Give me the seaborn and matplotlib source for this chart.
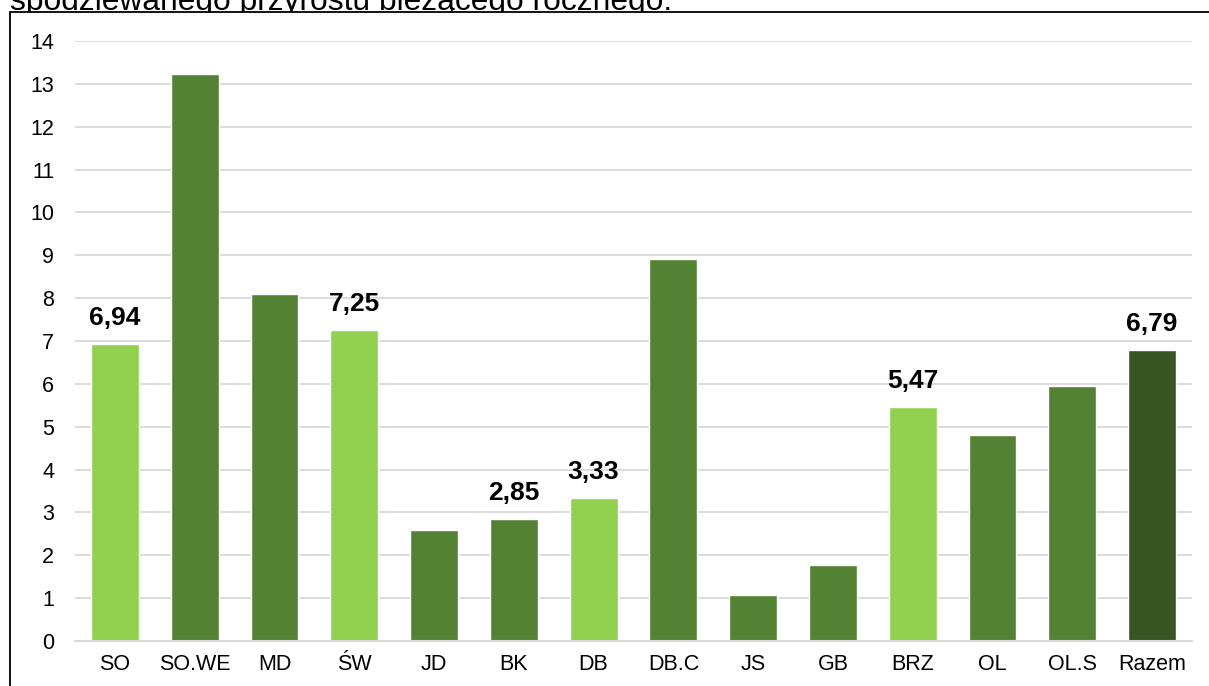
import matplotlib
matplotlib.use("Agg")
import matplotlib.pyplot as plt
from matplotlib.patches import Rectangle
import seaborn as sns
import pandas as pd

categories = ["SO", "SO.WE", "MD", "ŚW", "JD", "BK", "DB", "DB.C", "JS", "GB", "BRZ", "OL", "OL.S", "Razem"]
values = [6.94, 13.23, 8.10, 7.25, 2.60, 2.85, 3.33, 8.91, 1.08, 1.78, 5.47, 4.81, 5.95, 6.79]
groups = ["light", "mid", "mid", "light", "mid", "mid", "light", "mid", "mid", "mid", "light", "mid", "mid", "dark"]
labelled = ["SO", "ŚW", "BK", "DB", "BRZ", "Razem"]
title_text = "spodziewanego przyrostu bieżącego rocznego."

palette = {"light": "#92D050", "mid": "#548235", "dark": "#375623"}

df = pd.DataFrame({"cat": categories, "val": values, "grp": groups})

sns.set_theme(style="white")
plt.rcParams["font.family"] = ["Liberation Sans", "DejaVu Sans"]

W, H = 1209, 686
fig = plt.figure(figsize=(W / 100, H / 100), dpi=100)
ax = fig.add_axes([75 / W, 1 - 641 / H, (1192 - 75) / W, 600 / H])
ax.set_zorder(5)

sns.barplot(data=df, x="cat", y="val", hue="grp", palette=palette, dodge=False,
            width=0.6, legend=False, ax=ax, order=categories, saturation=1)

ax.set_ylim(0, 14)
ax.set_xlim(-0.5, len(categories) - 0.5)
ax.set_yticks(range(0, 15))
ax.yaxis.grid(True, color="#D9D9D9", lw=1.3)
ax.set_axisbelow(True)
for s in ["top", "right", "left"]:
    ax.spines[s].set_visible(False)
ax.spines["bottom"].set_color("#D9D9D9")
ax.spines["bottom"].set_linewidth(1.5)
ax.tick_params(axis="both", length=0, labelsize=15.5, colors="black")
ax.tick_params(axis="x", pad=9)
ax.tick_params(axis="y", pad=15)
ax.set_xlabel("")
ax.set_ylabel("")

for i, (c, v) in enumerate(zip(categories, values)):
    if c in labelled:
        ax.annotate(f"{v:.2f}".replace(".", ","), (i, v), xytext=(0, 10),
                    textcoords="offset points", ha="center", va="bottom",
                    fontsize=19, fontweight="bold", color="black")

# title text partly hidden behind the chart frame
fig.text(10 / W, 1 - 10 / H, title_text, ha="left", va="baseline", fontsize=22.9,
         color="black", zorder=1)
# white chart area with frame (top and left edges visible)
fig.add_artist(Rectangle((9.5 / W, -0.1), 1.2, 1 - 11.5 / H + 0.1, transform=fig.transFigure,
                         facecolor="white", edgecolor="black", lw=1.3, zorder=2))

fig.savefig("out.png", dpi=100)
